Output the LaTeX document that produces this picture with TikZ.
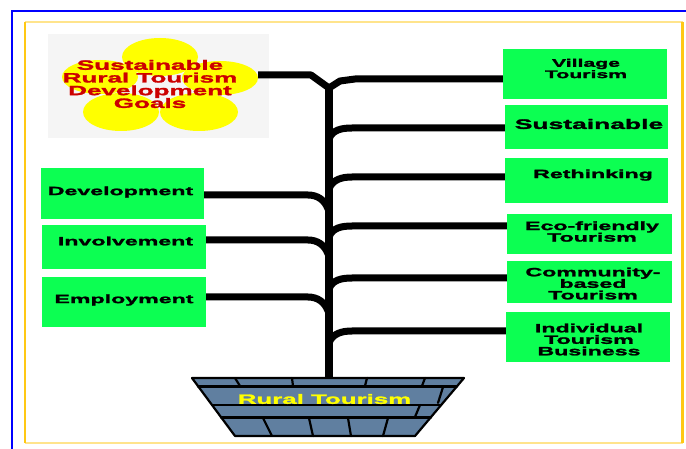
\documentclass[tikz,border=0pt]{standalone}
\usepackage{fontspec}
\usetikzlibrary{shapes.geometric}
\newfontfamily\wide{Liberation Sans Bold}[FakeStretch=1.93,FakeBold=2]
\definecolor{leaf}{RGB}{12,255,82}
\definecolor{brick}{RGB}{96,127,160}
\definecolor{goalred}{RGB}{204,0,0}
\definecolor{petal}{RGB}{255,255,0}
\definecolor{paper}{RGB}{245,245,245}
\definecolor{goldside}{RGB}{255,200,20}
\definecolor{goldedge}{RGB}{255,228,140}
\begin{document}
\begin{tikzpicture}[x=1pt,y=-1pt,
  box/.style={fill=leaf,draw=none,inner sep=0pt},
  lbl/.style={inner sep=0pt,align=center,text=black,font=\wide\fontsize{12}{11.5}\selectfont},
  branch/.style={line width=7pt,line cap=butt,line join=round,black},
  trunk/.style={line width=8.5pt,black},
  brickline/.style={line width=2.2pt,black,line cap=round}]
\useasboundingbox (0,0) rectangle (686,449);
\fill[white] (0,0) rectangle (686,449);

% outer frames
\draw[blue,line width=2.5pt] (686,11) -- (12,11) -- (12,449);
\draw[goldedge,line width=2pt] (25,22.5) -- (683,22.5);
\draw[goldedge,line width=2.5pt] (25,443) -- (683,443);
\draw[goldside,line width=2pt] (25,22) -- (25,443);
\draw[goldside,line width=2.5pt] (682.5,22) -- (682.5,443);

% goals flower
\node[fill=paper,inner sep=0pt,minimum width=221pt,minimum height=104pt] (goal) at (158.5,86) {};
\fill[petal] (160,57) ellipse [x radius=38pt,y radius=19pt];
\fill[petal] (100,77) ellipse [x radius=38pt,y radius=17pt];
\fill[petal] (121,112) ellipse [x radius=38pt,y radius=19pt];
\fill[petal] (199,112) ellipse [x radius=39pt,y radius=19pt];
\node[fill=petal,ellipse,inner sep=0pt,minimum width=76pt,minimum height=34pt] (pR) at (220,78) {};
\node[inner sep=0pt,align=center,text=goalred,font=\wide\fontsize{13.5}{12.7}\selectfont] (goaltxt) at (150,84)
  {Sustainable\\Rural Tourism\\Development\\Goals};

% basket
\coordinate (tTop) at (329,84);
\coordinate (basket) at (329,379);
\filldraw[fill=brick,draw=black,line width=2.2pt,line join=round] (192,378) -- (464,378) -- (415,436) -- (235,436) -- cycle;
\draw[brickline] (198,386.5) -- (457,386.5);
\draw[brickline] (212,405) -- (441,405);
\draw[brickline] (221,417.5) -- (431,417.5);
\draw[brickline] (235,378) -- (240,386);
\draw[brickline] (292,378) -- (293,386);
\draw[brickline] (367,378) -- (365,386);
\draw[brickline] (425,378) -- (422,386);
\draw[brickline] (443,387) -- (438,403);
\draw[brickline] (420,405) -- (415,417);
\draw[brickline] (263,418) -- (272,436);
\draw[brickline] (309,418) -- (313,436);
\draw[brickline] (348,418) -- (351,436);
\draw[brickline] (388,418) -- (383,436);
\node[inner sep=0pt,text=petal,font=\wide\fontsize{13.4}{13}\selectfont] (rural) at (324.5,399) {Rural Tourism};

% trunk
\draw[trunk] (tTop) -- (basket);

% left boxes
\node[box,minimum width=163pt,minimum height=51pt] (dev) at (122.5,193.5) {};
\node[box,minimum width=164pt,minimum height=44pt] (inv) at (124,247) {};
\node[box,minimum width=164pt,minimum height=50pt] (emp) at (124,302) {};
\node[lbl] (devT) at (120.5,192) {Development};
\node[lbl] (invT) at (125.5,241) {Involvement};
\node[lbl] (empT) at (124,300) {Employment};

% right boxes
\node[box,minimum width=164pt,minimum height=50pt] (vil) at (585,74) {};
\node[box,minimum width=163pt,minimum height=44pt] (sus) at (586.5,127) {};
\node[box,minimum width=163pt,minimum height=45pt] (ret) at (586.5,180.5) {};
\node[box,minimum width=165pt,minimum height=40pt] (eco) at (589.5,234) {};
\node[box,minimum width=165pt,minimum height=42pt] (com) at (589.5,282) {};
\node[box,minimum width=164pt,minimum height=50pt] (ind) at (588,337) {};
\node[lbl,font=\wide\fontsize{11}{10}\selectfont] (vilT) at (586,68.5) {Village\\Tourism};
\node[lbl,font=\wide\fontsize{13.7}{13}\selectfont] (susT) at (589,124) {Sustainable};
\node[lbl] (retT) at (593,175) {Rethinking};
\node[lbl] (ecoT) at (592,231.5) {Eco-friendly\\Tourism};
\node[lbl] (comT) at (593,283.5) {Community-\\based\\Tourism};
\node[lbl] (indT) at (589,339.5) {Individual\\Tourism\\Business};

% branches: top fork
\draw[branch] ([yshift=3pt]pR.east) -- (311,75) -- (329,88);
\draw[branch] (329,88) -- (340,81) -- (355,79) -- (vil.west |- 0,79);

% right branches
\draw[branch] (329,139) to[out=70,in=180] (352,128) -- (sus.west |- 0,128);
\draw[branch] (329,189) to[out=70,in=180] (352,177) -- (ret.west |- 0,177);
\draw[branch] (329,237) to[out=70,in=180] (352,226) -- (eco.west |- 0,226);
\draw[branch] (329,289) to[out=70,in=180] (352,278) -- (com.west |- 0,278);
\draw[branch] (329,343) to[out=70,in=180] (352,331) -- (ind.west |- 0,331);

% left branches
\draw[branch] (dev.east |- 0,195) -- (308,195) to[out=0,in=110] (328,209);
\draw[branch] (inv.east |- 0,240) -- (308,240) to[out=0,in=110] (328,254);
\draw[branch] (emp.east |- 0,297) -- (308,297) to[out=0,in=110] (328,311);
\end{tikzpicture}
\end{document}
